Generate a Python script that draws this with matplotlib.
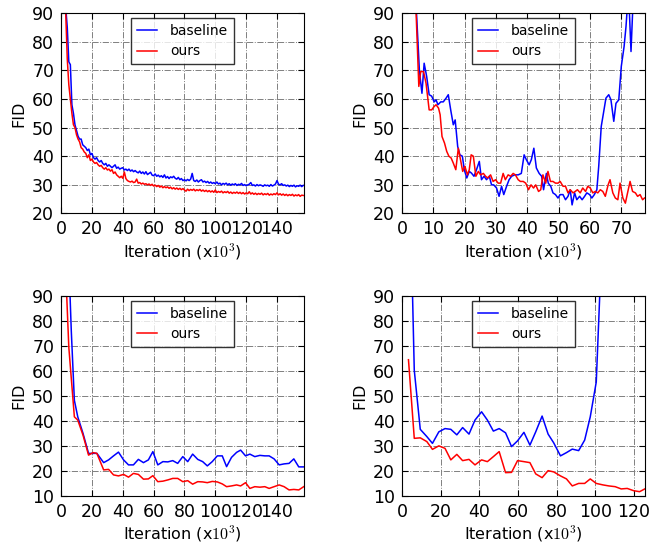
import numpy as np
import matplotlib
matplotlib.use("Agg")
import matplotlib.pyplot as plt

plt.rcParams['font.family'] = 'DejaVu Sans'
plt.rcParams['mathtext.fontset'] = 'cm'
plt.rcParams['font.size'] = 12
plt.rcParams['xtick.direction'] = 'in'
plt.rcParams['ytick.direction'] = 'in'
plt.rcParams['xtick.top'] = True
plt.rcParams['ytick.right'] = True
plt.rcParams['xtick.major.size'] = 4
plt.rcParams['ytick.major.size'] = 4
plt.rcParams['xtick.labelsize'] = 12.5
plt.rcParams['ytick.labelsize'] = 12.5
plt.rcParams['axes.labelsize'] = 11.5

# ---- panel 1 (top left): dense logging every 1k iterations, starting at 3k
p1_base = [92, 85, 73, 72, 58, 55, 51, 49, 47, 46,
           46, 44, 43.5, 43, 42, 42.5, 40.5, 41, 39.5, 39,
           39.5, 38.5, 38, 38.5, 37.5, 37, 37.5, 36.5, 37, 36.5,
           36, 36.5, 37, 35.8, 36.2, 35.5, 35.8, 36, 35.2, 35.5,
           35, 35.5, 34.8, 35.2, 34.6, 35, 34.5, 34.2, 34.8, 34,
           34.5, 33.8, 34.6, 33.6, 34, 34.4, 33.4, 33.2, 33.8, 33,
           33.4, 32.8, 33.2, 32.6, 33.5, 32.4, 32.9, 32.2, 32.8, 32.5,
           33, 32.3, 32, 32.6, 31.8, 32.2, 31.5, 31.8, 31.4, 31.9,
           31.5, 32, 34, 31.5, 31.2, 31.7, 31, 31.5, 31.8, 31,
           31.3, 30.8, 31.2, 30.6, 31, 30.5, 30.8, 30.4, 31, 30.3,
           30.6, 30, 30.5, 30.2, 30.6, 30, 30.4, 29.9, 30.3, 30,
           30.4, 29.8, 30.2, 30, 30.5, 29.8, 30.1, 29.7, 30, 30.2,
           30.8, 29.8, 30, 29.6, 30.1, 29.7, 30, 29.8, 29.5, 30,
           29.7, 29.9, 29.5, 30.1, 29.6, 29.9, 30.3, 31.5, 30.2, 30,
           30.4, 29.8, 30, 29.6, 29.9, 29.4, 29.8, 29.5, 29.9, 29.3,
           29.7, 29.5, 29.9, 29.4, 29.8]
p1_ours = [90, 74, 65, 60, 55, 51, 50, 47.5, 46, 45,
           43, 42.5, 41.5, 41, 39.5, 40.5, 38.5, 39, 38, 37.5,
           37.8, 37, 36.5, 36.8, 36, 35.5, 36, 35.2, 35.5, 34.8,
           35.3, 34, 34.5, 33.5, 33, 32.5, 33, 32.3, 34.5, 32.2,
           31.5, 31.2, 31, 31.3, 30.8, 31, 32, 30.6, 30.8, 30.3,
           30.6, 30.2, 30.4, 30, 30.3, 29.8, 30.2, 29.6, 29.9, 29.4,
           29.8, 29.2, 29.6, 29, 29.4, 29, 29.3, 28.8, 29.2, 28.6,
           29, 28.5, 28.9, 28.4, 28.8, 28.3, 28.7, 28.2, 27.8, 28.5,
           28, 28.4, 28.1, 28.5, 27.9, 28.3, 28, 28.4, 27.8, 28.2,
           27.7, 28.1, 27.6, 28, 27.5, 27.9, 27.4, 28.2, 27.3, 27.7,
           27.4, 27.8, 27.2, 27.6, 27.3, 27.7, 27.1, 27.5, 27, 27.4,
           27.1, 27.5, 27, 27.4, 26.9, 27.3, 26.8, 27.2, 26.9, 27.6,
           26.8, 27.2, 26.7, 27.1, 26.6, 27, 26.7, 27.1, 26.5, 26.9,
           26.6, 27, 26.4, 26.8, 26.5, 26.9, 26.6, 27.2, 26.5, 26.9,
           26.4, 26.8, 26.3, 26.7, 26.2, 26.6, 26.3, 26.7, 26.1, 26.5,
           26.2, 26.6, 26, 26.4, 26.3]
p1_base_it = np.arange(3, 3 + len(p1_base))
p1_ours_it = np.arange(3, 3 + len(p1_ours))

# ---- panel 2 (top right)
p2_base_it = [4.2, 5.6, 6.4, 7.1, 7.9, 8.7, 9.5, 10.3, 10.9, 11.5, 12.4, 13.2, 14.1, 14.8,
              15.6, 16.4, 17.0, 17.8, 18.5, 19.3, 19.9, 20.7, 21.5, 22.2, 23.0, 23.8, 24.7,
              25.4, 26.2, 27.0, 27.9, 28.6, 29.3, 30.2, 31.0, 31.8, 32.5, 33.4, 34.2, 35.0,
              36.0, 37.1, 38.1, 39.0, 39.7, 40.6, 41.3, 42.1, 42.9, 43.8, 44.6, 45.2, 46.1,
              46.7, 47.5, 48.2, 49.0, 49.8, 50.5, 51.4, 52.2, 53.0, 53.7, 54.3, 55.1, 55.8,
              56.7, 57.5, 58.3, 59.0, 59.9, 60.6, 61.4, 62.2, 62.8, 63.6, 64.3, 65.1, 66.0,
              66.7, 67.6, 68.3, 69.2, 70.0, 70.9, 71.5, 72.3, 73.1, 73.9]
p2_base = [100, 69.6, 62, 72.5, 67.9, 61.5, 61, 59, 59.7, 58, 59, 59, 60.3, 61.5,
           56, 51, 52.7, 43.4, 40.5, 40, 35.3, 32.4, 34.7, 34.1, 33, 35.3, 38.2,
           31.8, 33, 31.8, 33, 30, 30, 28.9, 26, 29.5, 26.6, 29.5, 31.8, 33,
           33.5, 33.5, 34, 40.5, 38.8, 37, 38.8, 42.8, 35.9, 34, 33, 28.3, 34,
           30.6, 29.5, 27.2, 26.6, 25.4, 26.6, 26.6, 24.8, 26, 28.3, 23, 27.2, 24.8,
           26, 24.8, 26, 27.2, 26.6, 25.4, 26.6, 28.3, 36.5, 50.4, 55, 60.3, 61.5,
           59.7, 52.2, 58.5, 59.7, 71.4, 78.4, 85.3, 98, 76.6, 98]

p2_ours_it = [4.2, 5.4, 6.0, 6.9, 7.7, 8.7, 9.5, 10.3, 10.9, 11.7, 12.2, 12.8, 13.6, 14.3,
              15.0, 15.7, 16.4, 17.2, 18.0, 18.7, 19.4, 20.1, 20.9, 21.5, 22.1, 22.8, 23.6,
              24.4, 25.1, 26.0, 26.7, 27.4, 28.3, 29.1, 29.9, 30.7, 31.5, 32.3, 33.0, 33.9,
              34.7, 35.5, 36.2, 37.1, 37.8, 38.7, 39.5, 40.4, 41.2, 42.0, 42.7, 43.6, 44.3,
              45.0, 45.9, 46.6, 47.4, 48.2, 49.0, 49.8, 50.5, 51.4, 52.2, 53.0, 53.7, 54.6,
              55.3, 56.0, 56.9, 57.7, 58.6, 59.3, 60.1, 60.9, 61.7, 62.5, 63.3, 64.1, 64.9,
              65.8, 66.4, 67.3, 68.1, 68.9, 69.6, 70.5, 71.3, 72.0, 72.8, 73.6, 74.5, 75.2,
              76.0, 76.8, 77.4]
p2_ours = [100, 64.4, 69.6, 69.6, 65.5, 56.2, 56.2, 57.4, 58, 56.8, 54.5, 46.9, 44.6, 41.7,
           40, 39.4, 37.6, 35.3, 42.8, 38.8, 34.7, 36.5, 33.5, 35.3, 40.5, 40, 33,
           34.7, 33.5, 34, 33, 32.4, 33.5, 31.2, 31.8, 30.6, 30.6, 34, 31.8, 33.5,
           33, 34, 33.5, 31.8, 31.2, 31.2, 30.6, 28.3, 30, 28.9, 30, 27.7, 28.3,
           33.5, 30.6, 34.7, 31.2, 31.2, 30.6, 30.6, 31.2, 29.5, 29.5, 27.2, 28.3, 27.2,
           27.7, 28.3, 27.2, 28.9, 27.7, 29.5, 28.9, 27.2, 27.7, 27.2, 28.3, 27.7, 26,
           30, 31.8, 27.2, 25.4, 24.8, 30.6, 25.4, 23.6, 27.2, 31.2, 27.7, 27.2, 26,
           26.6, 24.8, 25.4]

# ---- panel 3 (bottom left)
p3_base_it = [3.5, 6.6, 8.6, 10.8, 14.2, 17.8, 20.7, 23.2, 27.6, 30.8, 34.0, 37.2, 40.5,
              43.7, 46.9, 50.1, 53.4, 56.6, 59.5, 62.7, 66.0, 69.2, 72.4, 75.6, 78.9,
              82.1, 85.3, 88.6, 91.8, 94.8, 98.0, 101.3, 104.5, 107.3, 110.5, 113.8,
              116.4, 119.6, 122.4, 125.6, 128.9, 132.1, 134.9, 138.1, 141.4, 144.6,
              147.8, 150.9, 154.1, 157.3]
p3_base = [130, 76, 48.2, 41.6, 35, 27, 27, 27, 23.3, 24.4, 26, 27.5, 24.4,
           22.4, 22.4, 24.6, 23.3, 24.4, 27.7, 22.4, 23.7, 23.6, 24.1, 23, 25.7,
           23.7, 26.7, 24.6, 23.7, 22, 23.7, 26, 26, 21.7, 25.4, 27.4,
           28.3, 26, 26.7, 25.7, 26.2, 26, 26, 24.8, 22.4, 22.8,
           23, 24.8, 21.6, 21.6]
p3_ours_it = [3.3, 5.0, 8.6, 10.8, 14.2, 17.8, 20.7, 23.2, 27.6, 30.8, 34.0, 37.2, 40.5,
              43.7, 46.9, 50.1, 53.4, 56.6, 59.5, 62.7, 66.0, 69.2, 72.4, 75.6, 78.9,
              82.1, 85.3, 88.6, 91.8, 94.8, 98.0, 101.3, 104.5, 107.3, 110.5, 113.8,
              116.4, 119.6, 122.4, 125.6, 128.9, 132.1, 134.9, 138.1, 141.4, 144.6,
              147.8, 150.9, 154.1, 157.3]
p3_ours = [95, 69.4, 41.6, 40.3, 34.3, 26.3, 27.3, 27, 20.4, 20.6, 18.4, 18, 18.6,
           17.5, 19, 18.6, 16.7, 16.8, 18.1, 15.7, 15.9, 16.4, 17, 17, 15.7,
           16.1, 14.7, 15.7, 15.6, 15.3, 15.8, 15.6, 14.8, 13.7, 14, 14.4,
           14, 15.3, 13, 13.7, 13.5, 13.7, 13, 13.7, 14.4, 13.7,
           12.4, 12.6, 12.4, 13.7]

# ---- panel 4 (bottom right)
p4_base_it = [3.4, 6.4, 9.5, 12.9, 15.8, 19.1, 22.3, 25.3, 28.4, 31.4, 34.7, 37.8, 41.2,
              44.2, 47.3, 50.3, 53.6, 56.7, 59.8, 63.1, 66.2, 69.2, 72.5, 75.6, 78.5,
              82.0, 85.1, 88.1, 91.4, 94.5, 97.4, 100.5, 103.6]
p4_base = [160, 60.2, 36.6, 33.7, 31, 35.6, 36.9, 36.6, 34.4, 37.3, 34.7, 40.3, 43.6,
           40.3, 35.9, 36.9, 35.2, 29.7, 32, 35.4, 30.3, 35.6, 41.9, 34.7, 31.2,
           26, 27.3, 28.7, 28.1, 32.3, 41.6, 55.5, 115]
p4_ours_it = [3.4, 6.4, 9.5, 12.9, 15.8, 19.1, 22.3, 25.3, 28.4, 31.4, 34.7, 37.8, 41.2,
              44.2, 47.3, 50.3, 53.6, 56.7, 59.8, 63.1, 66.2, 69.2, 72.5, 75.6, 78.5,
              82.0, 85.1, 88.1, 91.4, 94.5, 97.4, 100.5, 104.0, 107.0, 110.3, 113.4,
              116.5, 119.8, 122.9, 125.6]
p4_ours = [64.4, 33, 33.2, 31.7, 28.6, 30, 29, 24.4, 26.6, 24.1, 24.6, 22.4, 24.4,
           23.7, 25.7, 27.7, 19.3, 19.4, 24.1, 23.7, 23.3, 18.8, 17.3, 20.1, 19.6,
           18, 16.8, 14, 15, 15, 16.8, 15, 14.4, 14, 13.7, 12.8,
           13, 12.1, 11.7, 12.8]

panels = [
    (p1_base_it, p1_base, p1_ours_it, p1_ours, 157.5, 20, [0, 20, 40, 60, 80, 100, 120, 140]),
    (p2_base_it, p2_base, p2_ours_it, p2_ours, 77.5, 20, [0, 10, 20, 30, 40, 50, 60, 70]),
    (p3_base_it, p3_base, p3_ours_it, p3_ours, 157.5, 10, [0, 20, 40, 60, 80, 100, 120, 140]),
    (p4_base_it, p4_base, p4_ours_it, p4_ours, 125.6, 10, [0, 20, 40, 60, 80, 100, 120]),
]

fig, axes = plt.subplots(2, 2, figsize=(6.5, 5.48), dpi=100)
plt.subplots_adjust(left=0.094, right=0.992, bottom=0.095, top=0.976,
                    wspace=0.403, hspace=0.41)

for ax, (bx, by, ox, oy, xmax, ymin, xt) in zip(axes.flat, panels):
    ax.plot(bx, by, color='b', lw=1.1, label='baseline')
    ax.plot(ox, oy, color='r', lw=1.1, label='ours')
    ax.set_xlim(0, xmax)
    ax.set_ylim(ymin, 90)
    ax.set_xticks(xt)
    ax.set_yticks(np.arange(ymin, 91, 10))
    ax.tick_params(pad=5)
    ax.grid(True, linestyle='-.', color='gray', lw=0.7)
    ax.set_xlabel('Iteration (x$10^3$)', labelpad=2)
    ax.set_ylabel('FID')
    leg = ax.legend(loc='upper center', fancybox=False, fontsize=10,
                    handlelength=1.45, handletextpad=0.95, borderpad=0.43,
                    labelspacing=0.45, borderaxespad=0.36)
    leg.get_frame().set_edgecolor('black')
    leg.get_frame().set_linewidth(1)

fig.savefig('out.png', dpi=100)
